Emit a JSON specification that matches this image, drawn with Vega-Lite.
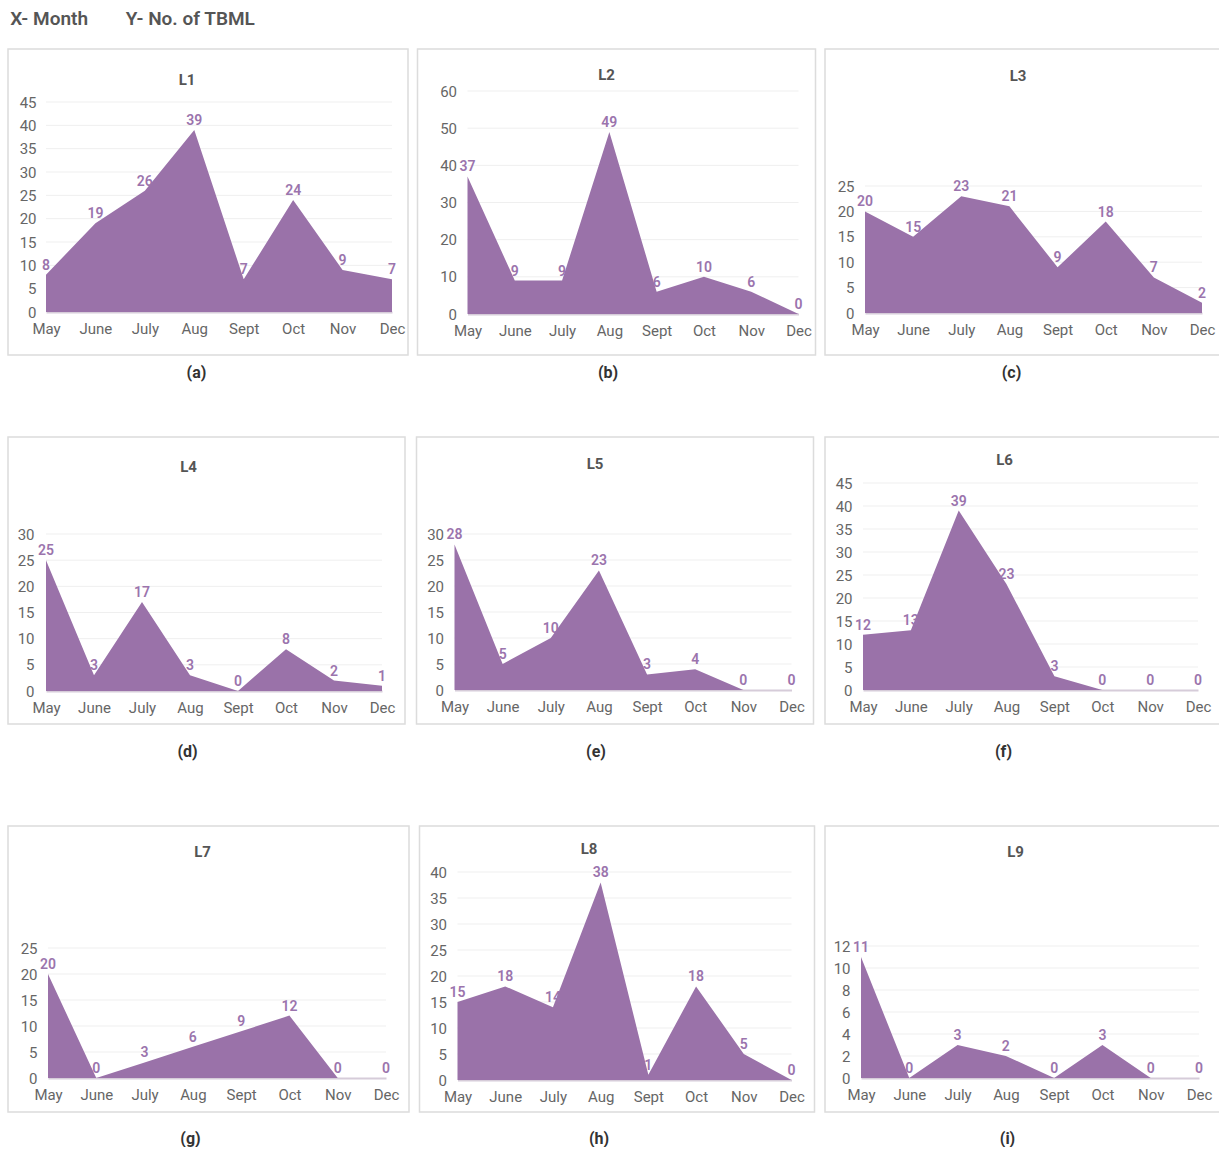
{
  "$schema": "https://vega.github.io/schema/vega-lite/v6.json",
  "padding": {"left": 7, "top": 10, "right": 0, "bottom": 0},
  "background": "white",
  "title": {"text": "X- Month\u00a0\u00a0\u00a0\u00a0\u00a0\u00a0\u00a0\u00a0Y- No. of TBML", "anchor": "start", "fontSize": 19, "fontWeight": 600, "color": "#555555", "font": "Roboto", "offset": 19, "dx": 3},
  "config": {
    "font": "Roboto",
    "view": {"stroke": "#dcdcdc", "strokeWidth": 1.5},
    "axis": {"labelFont": "Roboto", "labelColor": "#666666", "labelFontSize": 15, "ticks": false, "grid": false, "titleFont": "Roboto", "titleFontSize": 16, "titleFontWeight": "bold", "titleColor": "#333333"},
    "axisX": {"domainColor": "#d6ccd9", "domainWidth": 2, "labelAngle": 0, "labelPadding": 9, "labelOverlap": false, "titleBaseline": "middle"},
    "axisY": {"domain": false, "labelPadding": 4, "title": null},
    "title": {"font": "Roboto", "fontSize": 15, "fontWeight": "bold", "color": "#555555", "baseline": "middle"}
  },
  "datasets": {
    "d": [
      {"p": "L1", "m": "May", "v": 8}, {"p": "L1", "m": "June", "v": 19}, {"p": "L1", "m": "July", "v": 26}, {"p": "L1", "m": "Aug", "v": 39}, {"p": "L1", "m": "Sept", "v": 7}, {"p": "L1", "m": "Oct", "v": 24}, {"p": "L1", "m": "Nov", "v": 9}, {"p": "L1", "m": "Dec", "v": 7},
      {"p": "L2", "m": "May", "v": 37}, {"p": "L2", "m": "June", "v": 9}, {"p": "L2", "m": "July", "v": 9}, {"p": "L2", "m": "Aug", "v": 49}, {"p": "L2", "m": "Sept", "v": 6}, {"p": "L2", "m": "Oct", "v": 10}, {"p": "L2", "m": "Nov", "v": 6}, {"p": "L2", "m": "Dec", "v": 0},
      {"p": "L3", "m": "May", "v": 20}, {"p": "L3", "m": "June", "v": 15}, {"p": "L3", "m": "July", "v": 23}, {"p": "L3", "m": "Aug", "v": 21}, {"p": "L3", "m": "Sept", "v": 9}, {"p": "L3", "m": "Oct", "v": 18}, {"p": "L3", "m": "Nov", "v": 7}, {"p": "L3", "m": "Dec", "v": 2},
      {"p": "L4", "m": "May", "v": 25}, {"p": "L4", "m": "June", "v": 3}, {"p": "L4", "m": "July", "v": 17}, {"p": "L4", "m": "Aug", "v": 3}, {"p": "L4", "m": "Sept", "v": 0}, {"p": "L4", "m": "Oct", "v": 8}, {"p": "L4", "m": "Nov", "v": 2}, {"p": "L4", "m": "Dec", "v": 1},
      {"p": "L5", "m": "May", "v": 28}, {"p": "L5", "m": "June", "v": 5}, {"p": "L5", "m": "July", "v": 10}, {"p": "L5", "m": "Aug", "v": 23}, {"p": "L5", "m": "Sept", "v": 3}, {"p": "L5", "m": "Oct", "v": 4}, {"p": "L5", "m": "Nov", "v": 0}, {"p": "L5", "m": "Dec", "v": 0},
      {"p": "L6", "m": "May", "v": 12}, {"p": "L6", "m": "June", "v": 13}, {"p": "L6", "m": "July", "v": 39}, {"p": "L6", "m": "Aug", "v": 23}, {"p": "L6", "m": "Sept", "v": 3}, {"p": "L6", "m": "Oct", "v": 0}, {"p": "L6", "m": "Nov", "v": 0}, {"p": "L6", "m": "Dec", "v": 0},
      {"p": "L7", "m": "May", "v": 20}, {"p": "L7", "m": "June", "v": 0}, {"p": "L7", "m": "July", "v": 3}, {"p": "L7", "m": "Aug", "v": 6}, {"p": "L7", "m": "Sept", "v": 9}, {"p": "L7", "m": "Oct", "v": 12}, {"p": "L7", "m": "Nov", "v": 0}, {"p": "L7", "m": "Dec", "v": 0},
      {"p": "L8", "m": "May", "v": 15}, {"p": "L8", "m": "June", "v": 18}, {"p": "L8", "m": "July", "v": 14}, {"p": "L8", "m": "Aug", "v": 38}, {"p": "L8", "m": "Sept", "v": 1}, {"p": "L8", "m": "Oct", "v": 18}, {"p": "L8", "m": "Nov", "v": 5}, {"p": "L8", "m": "Dec", "v": 0},
      {"p": "L9", "m": "May", "v": 11}, {"p": "L9", "m": "June", "v": 0}, {"p": "L9", "m": "July", "v": 3}, {"p": "L9", "m": "Aug", "v": 2}, {"p": "L9", "m": "Sept", "v": 0}, {"p": "L9", "m": "Oct", "v": 3}, {"p": "L9", "m": "Nov", "v": 0}, {"p": "L9", "m": "Dec", "v": 0}
    ],
    "grid": [
      {"p": "L1", "g": 5}, {"p": "L1", "g": 10}, {"p": "L1", "g": 15}, {"p": "L1", "g": 20}, {"p": "L1", "g": 25}, {"p": "L1", "g": 30}, {"p": "L1", "g": 35}, {"p": "L1", "g": 40}, {"p": "L1", "g": 45},
      {"p": "L2", "g": 10}, {"p": "L2", "g": 20}, {"p": "L2", "g": 30}, {"p": "L2", "g": 40}, {"p": "L2", "g": 50}, {"p": "L2", "g": 60},
      {"p": "L3", "g": 5}, {"p": "L3", "g": 10}, {"p": "L3", "g": 15}, {"p": "L3", "g": 20}, {"p": "L3", "g": 25},
      {"p": "L4", "g": 5}, {"p": "L4", "g": 10}, {"p": "L4", "g": 15}, {"p": "L4", "g": 20}, {"p": "L4", "g": 25}, {"p": "L4", "g": 30},
      {"p": "L5", "g": 5}, {"p": "L5", "g": 10}, {"p": "L5", "g": 15}, {"p": "L5", "g": 20}, {"p": "L5", "g": 25}, {"p": "L5", "g": 30},
      {"p": "L6", "g": 5}, {"p": "L6", "g": 10}, {"p": "L6", "g": 15}, {"p": "L6", "g": 20}, {"p": "L6", "g": 25}, {"p": "L6", "g": 30}, {"p": "L6", "g": 35}, {"p": "L6", "g": 40}, {"p": "L6", "g": 45},
      {"p": "L7", "g": 5}, {"p": "L7", "g": 10}, {"p": "L7", "g": 15}, {"p": "L7", "g": 20}, {"p": "L7", "g": 25},
      {"p": "L8", "g": 5}, {"p": "L8", "g": 10}, {"p": "L8", "g": 15}, {"p": "L8", "g": 20}, {"p": "L8", "g": 25}, {"p": "L8", "g": 30}, {"p": "L8", "g": 35}, {"p": "L8", "g": 40},
      {"p": "L9", "g": 2}, {"p": "L9", "g": 4}, {"p": "L9", "g": 6}, {"p": "L9", "g": 8}, {"p": "L9", "g": 10}, {"p": "L9", "g": 12}
    ]
  },
  "spacing": 55,
  "vconcat": [
    {
      "spacing": 7.5,
      "hconcat": [
        {
          "width": 400, "height": 306,
          "title": {"text": "L1", "dx": -21, "offset": -39},
          "encoding": {
            "x": {"field": "m", "type": "ordinal", "scale": {"type": "point", "padding": 0, "domain": ["May", "June", "July", "Aug", "Sept", "Oct", "Nov", "Dec"], "range": [38, 384]}, "axis": {"title": "(a)", "titleX": 188, "titleY": 60, "offset": -43}},
            "y": {"field": "v", "type": "quantitative", "scale": {"domain": [0, 45], "range": [263, 53], "nice": false}, "axis": {"values": [0, 5, 10, 15, 20, 25, 30, 35, 40, 45], "offset": -32}}
          },
          "layer": [
            {"data": {"name": "grid"}, "transform": [{"filter": "datum.p == 'L1'"}], "mark": {"type": "rule", "color": "#efefef", "strokeWidth": 1}, "encoding": {"x": {"datum": "May"}, "x2": {"datum": "Dec"}, "y": {"field": "g", "type": "quantitative"}}},
            {"data": {"name": "d"}, "transform": [{"filter": "datum.p == 'L1'"}], "mark": {"type": "area", "color": "#9a72a9", "opacity": 1}},
            {"data": {"name": "d"}, "transform": [{"filter": "datum.p == 'L1'"}], "mark": {"type": "text", "baseline": "bottom", "dy": -2, "color": "#9b74ad", "fontSize": 14, "fontWeight": 600}, "encoding": {"text": {"field": "v", "type": "quantitative"}}}
          ]
        },
        {
          "width": 398, "height": 306,
          "title": {"text": "L2", "dx": -10, "offset": -34},
          "encoding": {
            "x": {"field": "m", "type": "ordinal", "scale": {"type": "point", "padding": 0, "domain": ["May", "June", "July", "Aug", "Sept", "Oct", "Nov", "Dec"], "range": [50, 381]}, "axis": {"title": "(b)", "titleX": 190, "titleY": 58, "offset": -41}},
            "y": {"field": "v", "type": "quantitative", "scale": {"domain": [0, 60], "range": [265, 42], "nice": false}, "axis": {"values": [0, 10, 20, 30, 40, 50, 60], "offset": -43}}
          },
          "layer": [
            {"data": {"name": "grid"}, "transform": [{"filter": "datum.p == 'L2'"}], "mark": {"type": "rule", "color": "#efefef", "strokeWidth": 1}, "encoding": {"x": {"datum": "May"}, "x2": {"datum": "Dec"}, "y": {"field": "g", "type": "quantitative"}}},
            {"data": {"name": "d"}, "transform": [{"filter": "datum.p == 'L2'"}], "mark": {"type": "area", "color": "#9a72a9", "opacity": 1}},
            {"data": {"name": "d"}, "transform": [{"filter": "datum.p == 'L2'"}], "mark": {"type": "text", "baseline": "bottom", "dy": -2, "color": "#9b74ad", "fontSize": 14, "fontWeight": 600}, "encoding": {"text": {"field": "v", "type": "quantitative"}}}
          ]
        },
        {
          "width": 398, "height": 306,
          "title": {"text": "L3", "dx": -6, "offset": -35},
          "encoding": {
            "x": {"field": "m", "type": "ordinal", "scale": {"type": "point", "padding": 0, "domain": ["May", "June", "July", "Aug", "Sept", "Oct", "Nov", "Dec"], "range": [40, 377]}, "axis": {"title": "(c)", "titleX": 186, "titleY": 59, "offset": -42}},
            "y": {"field": "v", "type": "quantitative", "scale": {"domain": [0, 25], "range": [264, 137], "nice": false}, "axis": {"values": [0, 5, 10, 15, 20, 25], "offset": -33}}
          },
          "layer": [
            {"data": {"name": "grid"}, "transform": [{"filter": "datum.p == 'L3'"}], "mark": {"type": "rule", "color": "#efefef", "strokeWidth": 1}, "encoding": {"x": {"datum": "May"}, "x2": {"datum": "Dec"}, "y": {"field": "g", "type": "quantitative"}}},
            {"data": {"name": "d"}, "transform": [{"filter": "datum.p == 'L3'"}], "mark": {"type": "area", "color": "#9a72a9", "opacity": 1}},
            {"data": {"name": "d"}, "transform": [{"filter": "datum.p == 'L3'"}], "mark": {"type": "text", "baseline": "bottom", "dy": -2, "color": "#9b74ad", "fontSize": 14, "fontWeight": 600}, "encoding": {"text": {"field": "v", "type": "quantitative"}}}
          ]
        }
      ]
    },
    {
      "spacing": 65,
      "vconcat": [
        {
          "spacing": 9.5,
          "hconcat": [
            {
              "width": 397, "height": 287,
              "title": {"text": "L4", "dx": -18, "offset": -38},
              "encoding": {
                "x": {"field": "m", "type": "ordinal", "scale": {"type": "point", "padding": 0, "domain": ["May", "June", "July", "Aug", "Sept", "Oct", "Nov", "Dec"], "range": [38, 374]}, "axis": {"title": "(d)", "titleX": 179, "titleY": 60, "offset": -33}},
                "y": {"field": "v", "type": "quantitative", "scale": {"domain": [0, 30], "range": [254, 97], "nice": false}, "axis": {"values": [0, 5, 10, 15, 20, 25, 30], "offset": -30}}
              },
              "layer": [
                {"data": {"name": "grid"}, "transform": [{"filter": "datum.p == 'L4'"}], "mark": {"type": "rule", "color": "#efefef", "strokeWidth": 1}, "encoding": {"x": {"datum": "May"}, "x2": {"datum": "Dec"}, "y": {"field": "g", "type": "quantitative"}}},
                {"data": {"name": "d"}, "transform": [{"filter": "datum.p == 'L4'"}], "mark": {"type": "area", "color": "#9a72a9", "opacity": 1}},
                {"data": {"name": "d"}, "transform": [{"filter": "datum.p == 'L4'"}], "mark": {"type": "text", "baseline": "bottom", "dy": -2, "color": "#9b74ad", "fontSize": 14, "fontWeight": 600}, "encoding": {"text": {"field": "v", "type": "quantitative"}}}
              ]
            },
            {
              "width": 397, "height": 287,
              "title": {"text": "L5", "dx": -20, "offset": -35},
              "encoding": {
                "x": {"field": "m", "type": "ordinal", "scale": {"type": "point", "padding": 0, "domain": ["May", "June", "July", "Aug", "Sept", "Oct", "Nov", "Dec"], "range": [38, 375]}, "axis": {"title": "(e)", "titleX": 179, "titleY": 61, "offset": -34}},
                "y": {"field": "v", "type": "quantitative", "scale": {"domain": [0, 30], "range": [253, 97], "nice": false}, "axis": {"values": [0, 5, 10, 15, 20, 25, 30], "offset": -31}}
              },
              "layer": [
                {"data": {"name": "grid"}, "transform": [{"filter": "datum.p == 'L5'"}], "mark": {"type": "rule", "color": "#efefef", "strokeWidth": 1}, "encoding": {"x": {"datum": "May"}, "x2": {"datum": "Dec"}, "y": {"field": "g", "type": "quantitative"}}},
                {"data": {"name": "d"}, "transform": [{"filter": "datum.p == 'L5'"}], "mark": {"type": "area", "color": "#9a72a9", "opacity": 1}},
                {"data": {"name": "d"}, "transform": [{"filter": "datum.p == 'L5'"}], "mark": {"type": "text", "baseline": "bottom", "dy": -2, "color": "#9b74ad", "fontSize": 14, "fontWeight": 600}, "encoding": {"text": {"field": "v", "type": "quantitative"}}}
              ]
            },
            {
              "width": 397, "height": 287,
              "title": {"text": "L6", "dx": -19, "offset": -31},
              "encoding": {
                "x": {"field": "m", "type": "ordinal", "scale": {"type": "point", "padding": 0, "domain": ["May", "June", "July", "Aug", "Sept", "Oct", "Nov", "Dec"], "range": [38, 373]}, "axis": {"title": "(f)", "titleX": 178, "titleY": 61, "offset": -34}},
                "y": {"field": "v", "type": "quantitative", "scale": {"domain": [0, 45], "range": [253, 46], "nice": false}, "axis": {"values": [0, 5, 10, 15, 20, 25, 30, 35, 40, 45], "offset": -31}}
              },
              "layer": [
                {"data": {"name": "grid"}, "transform": [{"filter": "datum.p == 'L6'"}], "mark": {"type": "rule", "color": "#efefef", "strokeWidth": 1}, "encoding": {"x": {"datum": "May"}, "x2": {"datum": "Dec"}, "y": {"field": "g", "type": "quantitative"}}},
                {"data": {"name": "d"}, "transform": [{"filter": "datum.p == 'L6'"}], "mark": {"type": "area", "color": "#9a72a9", "opacity": 1}},
                {"data": {"name": "d"}, "transform": [{"filter": "datum.p == 'L6'"}], "mark": {"type": "text", "baseline": "bottom", "dy": -2, "color": "#9b74ad", "fontSize": 14, "fontWeight": 600}, "encoding": {"text": {"field": "v", "type": "quantitative"}}}
              ]
            }
          ]
        },
        {
          "spacing": 8.5,
          "hconcat": [
            {
              "width": 401, "height": 286,
              "title": {"text": "L7", "dx": -6, "offset": -34},
              "encoding": {
                "x": {"field": "m", "type": "ordinal", "scale": {"type": "point", "padding": 0, "domain": ["May", "June", "July", "Aug", "Sept", "Oct", "Nov", "Dec"], "range": [40, 378]}, "axis": {"title": "(g)", "titleX": 182, "titleY": 60, "offset": -34}},
                "y": {"field": "v", "type": "quantitative", "scale": {"domain": [0, 25], "range": [252, 122], "nice": false}, "axis": {"values": [0, 5, 10, 15, 20, 25], "offset": -33}}
              },
              "layer": [
                {"data": {"name": "grid"}, "transform": [{"filter": "datum.p == 'L7'"}], "mark": {"type": "rule", "color": "#efefef", "strokeWidth": 1}, "encoding": {"x": {"datum": "May"}, "x2": {"datum": "Dec"}, "y": {"field": "g", "type": "quantitative"}}},
                {"data": {"name": "d"}, "transform": [{"filter": "datum.p == 'L7'"}], "mark": {"type": "area", "color": "#9a72a9", "opacity": 1}},
                {"data": {"name": "d"}, "transform": [{"filter": "datum.p == 'L7'"}], "mark": {"type": "text", "baseline": "bottom", "dy": -2, "color": "#9b74ad", "fontSize": 14, "fontWeight": 600}, "encoding": {"text": {"field": "v", "type": "quantitative"}}}
              ]
            },
            {
              "width": 395, "height": 286,
              "title": {"text": "L8", "dx": -28, "offset": -31},
              "encoding": {
                "x": {"field": "m", "type": "ordinal", "scale": {"type": "point", "padding": 0, "domain": ["May", "June", "July", "Aug", "Sept", "Oct", "Nov", "Dec"], "range": [38, 372]}, "axis": {"title": "(h)", "titleX": 179, "titleY": 58, "offset": -32}},
                "y": {"field": "v", "type": "quantitative", "scale": {"domain": [0, 40], "range": [254, 46], "nice": false}, "axis": {"values": [0, 5, 10, 15, 20, 25, 30, 35, 40], "offset": -31}}
              },
              "layer": [
                {"data": {"name": "grid"}, "transform": [{"filter": "datum.p == 'L8'"}], "mark": {"type": "rule", "color": "#efefef", "strokeWidth": 1}, "encoding": {"x": {"datum": "May"}, "x2": {"datum": "Dec"}, "y": {"field": "g", "type": "quantitative"}}},
                {"data": {"name": "d"}, "transform": [{"filter": "datum.p == 'L8'"}], "mark": {"type": "area", "color": "#9a72a9", "opacity": 1}},
                {"data": {"name": "d"}, "transform": [{"filter": "datum.p == 'L8'"}], "mark": {"type": "text", "baseline": "bottom", "dy": -2, "color": "#9b74ad", "fontSize": 14, "fontWeight": 600}, "encoding": {"text": {"field": "v", "type": "quantitative"}}}
              ]
            },
            {
              "width": 397, "height": 286,
              "title": {"text": "L9", "dx": -8, "offset": -34},
              "encoding": {
                "x": {"field": "m", "type": "ordinal", "scale": {"type": "point", "padding": 0, "domain": ["May", "June", "July", "Aug", "Sept", "Oct", "Nov", "Dec"], "range": [36, 374]}, "axis": {"title": "(i)", "titleX": 182, "titleY": 60, "offset": -34}},
                "y": {"field": "v", "type": "quantitative", "scale": {"domain": [0, 12], "range": [252, 120], "nice": false}, "axis": {"values": [0, 2, 4, 6, 8, 10, 12], "offset": -29}}
              },
              "layer": [
                {"data": {"name": "grid"}, "transform": [{"filter": "datum.p == 'L9'"}], "mark": {"type": "rule", "color": "#efefef", "strokeWidth": 1}, "encoding": {"x": {"datum": "May"}, "x2": {"datum": "Dec"}, "y": {"field": "g", "type": "quantitative"}}},
                {"data": {"name": "d"}, "transform": [{"filter": "datum.p == 'L9'"}], "mark": {"type": "area", "color": "#9a72a9", "opacity": 1}},
                {"data": {"name": "d"}, "transform": [{"filter": "datum.p == 'L9'"}], "mark": {"type": "text", "baseline": "bottom", "dy": -2, "color": "#9b74ad", "fontSize": 14, "fontWeight": 600}, "encoding": {"text": {"field": "v", "type": "quantitative"}}}
              ]
            }
          ]
        }
      ]
    }
  ]
}
